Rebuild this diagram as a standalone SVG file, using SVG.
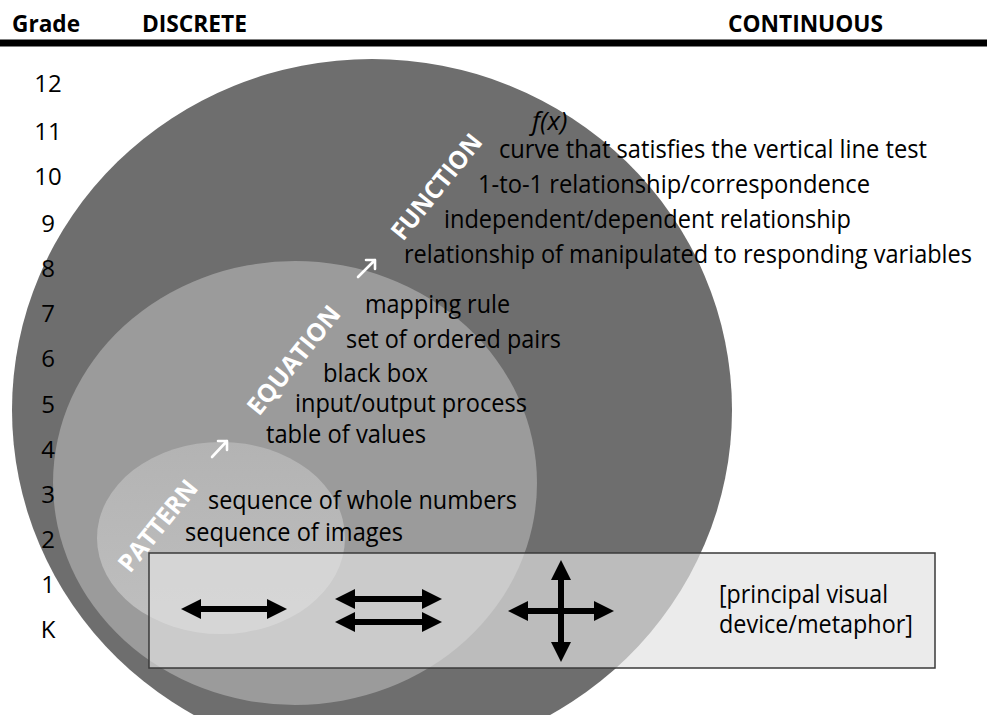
<svg xmlns="http://www.w3.org/2000/svg" width="987" height="715" viewBox="0 0 987 715">
<defs>
<style>
.t{font-family:"Open Sans","Liberation Sans",sans-serif;font-size:26px;fill:#000}
.g{font-family:"Open Sans","Liberation Sans",sans-serif;font-size:24px;fill:#000;text-anchor:middle}
.h{font-family:"Open Sans","Liberation Sans",sans-serif;font-size:24px;font-weight:bold;fill:#000}
.w{font-family:"Open Sans","Liberation Sans",sans-serif;font-size:25px;font-weight:bold;fill:#fff}
.ba{stroke:#000;stroke-width:6;fill:none;marker-start:url(#ah);marker-end:url(#ah)}
.wa{stroke:#fff;stroke-width:2.6;fill:none;stroke-linecap:round;stroke-linejoin:round}
</style>
<marker id="ah" viewBox="0 0 20 20" markerWidth="20" markerHeight="20" markerUnits="userSpaceOnUse" refX="10" refY="10" orient="auto-start-reverse">
<path d="M0,0 L20,10 L0,20 Z" fill="#000"/>
</marker>
<linearGradient id="sg" x1="0" y1="0" x2="0" y2="1">
<stop offset="0" stop-color="#b3b3b3"/>
<stop offset="1" stop-color="#bfbfbf"/>
</linearGradient>
</defs>
<rect width="987" height="715" fill="#fff"/>

<g id="header">
<text class="h" x="12" y="32" textLength="68" lengthAdjust="spacingAndGlyphs">Grade</text>
<text class="h" x="142" y="32" textLength="105" lengthAdjust="spacingAndGlyphs">DISCRETE</text>
<text class="h" x="728" y="32" textLength="155" lengthAdjust="spacingAndGlyphs">CONTINUOUS</text>
<rect x="0" y="39.5" width="987" height="7" fill="#000"/>
</g>

<g id="function">
<ellipse cx="372" cy="410" rx="360" ry="351" fill="#6e6e6e"/>
</g>
<g id="equation">
<ellipse cx="295" cy="483" rx="242" ry="222" fill="#9b9b9b"/>
</g>
<g id="pattern">
<ellipse cx="221" cy="538" rx="124" ry="96" fill="url(#sg)"/>
</g>

<g id="grades">
<text class="g" x="48" y="92">12</text>
<text class="g" x="48" y="140">11</text>
<text class="g" x="48" y="185">10</text>
<text class="g" x="48" y="232">9</text>
<text class="g" x="48" y="277">8</text>
<text class="g" x="48" y="322">7</text>
<text class="g" x="48" y="367">6</text>
<text class="g" x="48" y="413">5</text>
<text class="g" x="48" y="458">4</text>
<text class="g" x="48" y="503">3</text>
<text class="g" x="48" y="548">2</text>
<text class="g" x="48" y="593">1</text>
<text class="g" x="48" y="638">K</text>
</g>

<g id="function-labels">
<text class="w" transform="translate(403,242) rotate(-51)" textLength="128" lengthAdjust="spacingAndGlyphs">FUNCTION</text>
<text class="t" x="532" y="130" font-style="italic">f(x)</text>
<text class="t" x="499" y="158" textLength="428" lengthAdjust="spacingAndGlyphs">curve that satisfies the vertical line test</text>
<text class="t" x="478" y="193" textLength="392" lengthAdjust="spacingAndGlyphs">1-to-1 relationship/correspondence</text>
<text class="t" x="444" y="228" textLength="407" lengthAdjust="spacingAndGlyphs">independent/dependent relationship</text>
<text class="t" x="404" y="263" textLength="568" lengthAdjust="spacingAndGlyphs">relationship of manipulated to responding variables</text>
</g>

<g id="equation-labels">
<text class="w" transform="translate(259,417) rotate(-51)" textLength="132" lengthAdjust="spacingAndGlyphs">EQUATION</text>
<text class="t" x="365" y="313" textLength="145" lengthAdjust="spacingAndGlyphs">mapping rule</text>
<text class="t" x="346" y="348" textLength="215" lengthAdjust="spacingAndGlyphs">set of ordered pairs</text>
<text class="t" x="323" y="382" textLength="105" lengthAdjust="spacingAndGlyphs">black box</text>
<text class="t" x="295" y="412" textLength="232" lengthAdjust="spacingAndGlyphs">input/output process</text>
<text class="t" x="266" y="443" textLength="160" lengthAdjust="spacingAndGlyphs">table of values</text>
</g>

<g id="pattern-labels">
<text class="w" transform="translate(130,574) rotate(-51)" textLength="110" lengthAdjust="spacingAndGlyphs">PATTERN</text>
<text class="t" x="208" y="509" textLength="309" lengthAdjust="spacingAndGlyphs">sequence of whole numbers</text>
<text class="t" x="185" y="541" textLength="218" lengthAdjust="spacingAndGlyphs">sequence of images</text>
</g>

<g id="connectors">
<path class="wa" d="M358,277 L375,260 M366,260 L375,260 L375,269"/>
<path class="wa" d="M212,457 L227,441 M218,441 L227,441 L227,450"/>
</g>

<g id="legend">
<rect x="149" y="553" width="786" height="115" fill="#e1e1e1" fill-opacity="0.68" stroke="#3a3a3a" stroke-width="1.5"/>
<line class="ba" x1="191" y1="609" x2="277" y2="609"/>
<line class="ba" x1="345" y1="599" x2="432" y2="599"/>
<line class="ba" x1="345" y1="622" x2="432" y2="622"/>
<line class="ba" x1="518" y1="611" x2="604" y2="611"/>
<line class="ba" x1="561" y1="570" x2="561" y2="652"/>
<text class="t" x="719" y="603" textLength="169" lengthAdjust="spacingAndGlyphs">[principal visual</text>
<text class="t" x="719" y="633" textLength="194" lengthAdjust="spacingAndGlyphs">device/metaphor]</text>
</g>
</svg>
